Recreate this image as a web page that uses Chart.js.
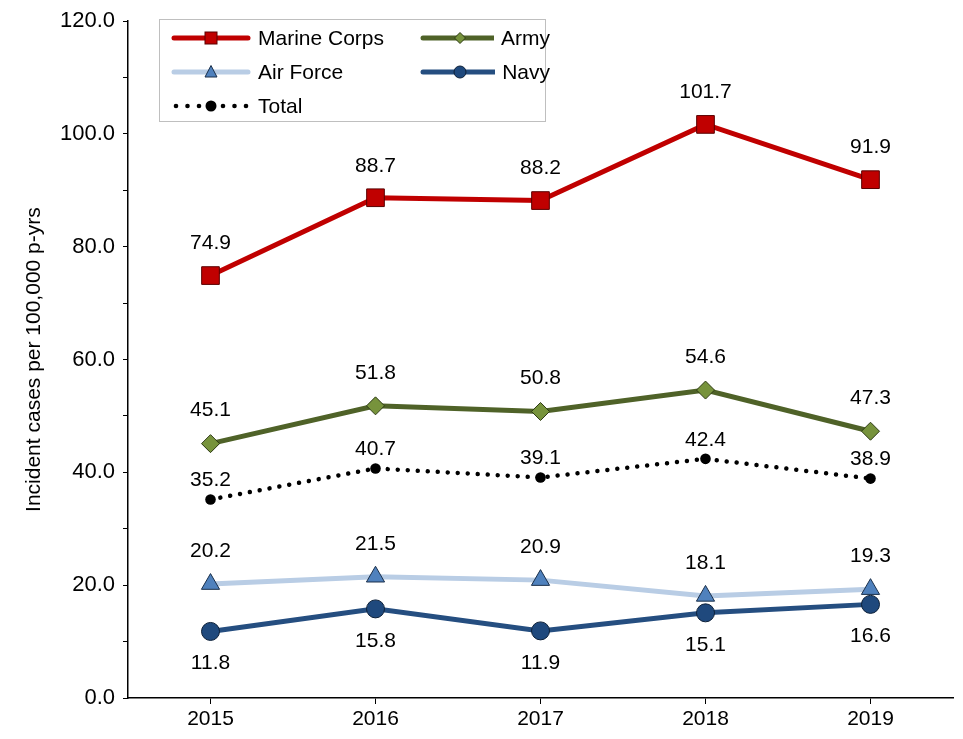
<!DOCTYPE html>
<html>
<head>
<meta charset="utf-8">
<script src="https://cdn.jsdelivr.net/npm/chart.js@4.4.1/dist/chart.umd.min.js"></script>
<style>
  html, body { margin: 0; padding: 0; background: #fff; }
  #wrap { position: relative; width: 963px; height: 739px; }
  #legend {
    position: absolute; left: 159px; top: 19px; width: 387px; height: 103px;
    border: 1px solid #bfbfbf; background: #fff; box-sizing: border-box;
    padding: 1px 0 0 11px;
    display: grid; grid-template-columns: 249px 130px; grid-auto-rows: 34px;
    font-family: "Liberation Sans", Arial, sans-serif; font-size: 21px; color: #000;
  }
  .item { display: flex; align-items: center; }
  .item svg { margin-right: 7px; }
</style>
</head>
<body>
<div id="wrap">
  <canvas id="chart_rates" width="963" height="739"></canvas>
  <div id="legend"></div>
</div>
<script>
const years = ["2015", "2016", "2017", "2018", "2019"];
const marineCorps = [74.9, 88.7, 88.2, 101.7, 91.9];
const army = [45.1, 51.8, 50.8, 54.6, 47.3];
const airForce = [20.2, 21.5, 20.9, 18.1, 19.3];
const navy = [11.8, 15.8, 11.9, 15.1, 16.6];
const total = [35.2, 40.7, 39.1, 42.4, 38.9];

const FONT = "'Liberation Sans', Arial, sans-serif";

const $chart_rates = document.getElementById("chart_rates");

// value labels above / below each point
const pointLabels = {
    id: "pointLabels",
    afterDatasetsDraw(chart) {
        const ctx = chart.ctx;
        ctx.save();
        ctx.font = "21px " + FONT;
        ctx.fillStyle = "#000";
        ctx.textAlign = "center";
        ctx.textBaseline = "middle";
        chart.data.datasets.forEach((ds, i) => {
            const meta = chart.getDatasetMeta(i);
            meta.data.forEach((pt, j) => {
                ctx.fillText(ds.data[j].toFixed(1), pt.x, pt.y + ds.labelOffset);
            });
        });
        ctx.restore();
    },
};

const chart = new Chart($chart_rates, {
    type: "line",
    data: {
        labels: years,
        datasets: [
            {
                label: "Marine Corps",
                data: marineCorps,
                borderColor: "#C00000",
                borderWidth: 5,
                pointStyle: "rect",
                pointRadius: 12.5,
                pointBackgroundColor: "#C00000",
                pointBorderColor: "#5a0000",
                pointBorderWidth: 1,
                labelOffset: -32,
                legendMarker: "rect",
            },
            {
                label: "Army",
                data: army,
                borderColor: "#4F6228",
                borderWidth: 5,
                pointStyle: "rectRot",
                pointRadius: 9,
                pointBackgroundColor: "#77933C",
                pointBorderColor: "#2d3a14",
                pointBorderWidth: 1,
                labelOffset: -33,
                legendMarker: "diamond",
            },
            {
                label: "Air Force",
                data: airForce,
                borderColor: "#B9CDE5",
                borderWidth: 5,
                pointStyle: "triangle",
                pointRadius: 10.5,
                pointBackgroundColor: "#4F81BD",
                pointBorderColor: "#1a2f4a",
                pointBorderWidth: 1,
                labelOffset: -33,
                legendMarker: "triangle",
            },
            {
                label: "Navy",
                data: navy,
                borderColor: "#254E80",
                borderWidth: 5,
                pointStyle: "circle",
                pointRadius: 9,
                pointBackgroundColor: "#1F497D",
                pointBorderColor: "#0d2038",
                pointBorderWidth: 1,
                labelOffset: 32,
                legendMarker: "circle",
            },
            {
                label: "Total",
                data: total,
                borderColor: "#000",
                borderWidth: 4.5,
                borderDash: [0.01, 10],
                borderCapStyle: "round",
                pointStyle: "circle",
                pointRadius: 5.3,
                pointBackgroundColor: "#000",
                pointBorderColor: "#000",
                pointBorderWidth: 0,
                labelOffset: -19,
                legendMarker: "dots",
            },
        ],
    },
    options: {
        responsive: false,
        animation: false,
        layout: { autoPadding: false, padding: { top: 19, right: 10, left: 0, bottom: 0 } },
        plugins: {
            legend: { display: false },
            tooltip: { enabled: false },
        },
        scales: {
            x: {
                offset: true,
                afterFit: (scale) => { scale.height = 41; },
                border: { color: "#000", width: 1.5 },
                grid: { offset: false, drawOnChartArea: false, tickLength: 6, color: "#000", lineWidth: 1 },
                ticks: { color: "#000", font: { family: FONT, size: 21 }, padding: 3 },
            },
            y: {
                min: 0,
                max: 120,
                afterFit: (scale) => { scale.width = 128; },
                border: { color: "#000", width: 1.5 },
                grid: { drawOnChartArea: false, tickLength: 5, color: "#000", lineWidth: 1 },
                ticks: {
                    stepSize: 10,
                    color: "#000",
                    padding: 8,
                    font: { family: FONT, size: 22 },
                    callback: (v) => (v % 20 === 0 ? v.toFixed(1) : ""),
                },
                title: {
                    display: true,
                    text: "Incident cases per 100,000 p-yrs",
                    color: "#000",
                    font: { family: FONT, size: 21 },
                    padding: { top: 22, bottom: 0 },
                },
            },
        },
    },
    plugins: [pointLabels],
});

// legend built from the dataset styles
function markerSvg(ds) {
    const cx = 40, cy = 10;
    let line = "";
    let mark = "";
    if (ds.legendMarker === "dots") {
        [5, 16.5, 28, 52, 63.5, 75].forEach((x) => {
            line += `<circle cx="${x}" cy="${cy}" r="2.3" fill="#000"/>`;
        });
        mark = `<circle cx="${cx}" cy="${cy}" r="5.5" fill="#000"/>`;
    } else {
        line = `<line x1="3" y1="${cy}" x2="77" y2="${cy}" stroke="${ds.borderColor}" stroke-width="5" stroke-linecap="round"/>`;
        const f = ds.pointBackgroundColor, s = ds.pointBorderColor;
        if (ds.legendMarker === "rect") {
            mark = `<rect x="${cx - 6}" y="${cy - 6}" width="12" height="12" fill="${f}" stroke="${s}"/>`;
        } else if (ds.legendMarker === "diamond") {
            mark = `<polygon points="${cx},${cy - 5.5} ${cx + 5.5},${cy} ${cx},${cy + 5.5} ${cx - 5.5},${cy}" fill="${f}" stroke="${s}"/>`;
        } else if (ds.legendMarker === "triangle") {
            mark = `<polygon points="${cx},${cy - 6.5} ${cx + 6},${cy + 5} ${cx - 6},${cy + 5}" fill="${f}" stroke="${s}"/>`;
        } else {
            mark = `<circle cx="${cx}" cy="${cy}" r="6" fill="${f}" stroke="${s}"/>`;
        }
    }
    return `<svg width="80" height="20">${line}${mark}</svg>`;
}

const $legend = document.getElementById("legend");
chart.data.datasets.forEach((ds) => {
    const item = document.createElement("div");
    item.className = "item";
    item.innerHTML = markerSvg(ds) + `<span>${ds.label}</span>`;
    $legend.appendChild(item);
});
</script>
</body>
</html>
